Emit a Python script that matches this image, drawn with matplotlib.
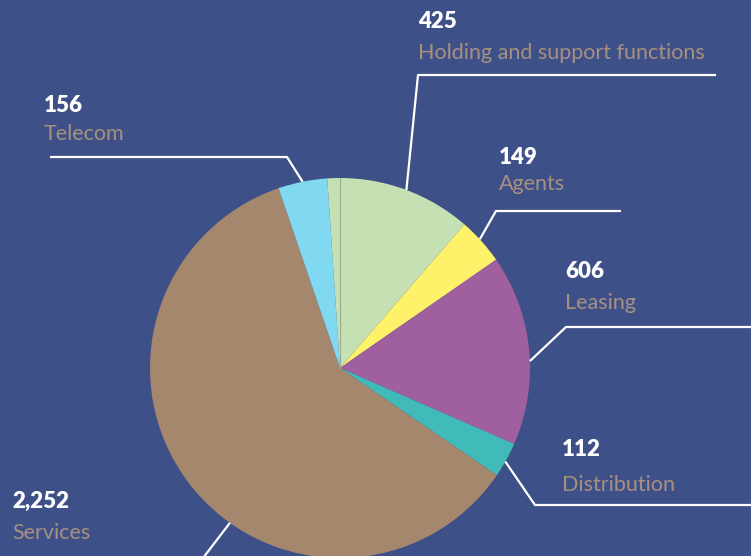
import numpy as np
import matplotlib.pyplot as plt

labels = ["Holding and support functions", "Agents", "Leasing", "Distribution",
          "Services", "Telecom", ""]
values = [425, 149, 606, 112, 2252, 156, 40]
value_text = ["425", "149", "606", "112", "2,252", "156", ""]
colors = ["#c5e1b4", "#fff26b", "#a0609f", "#41bbba", "#a4876d", "#80d8f1", "#c5e1b4"]

W, H = 751, 556
BG = "#3e5088"
TXT = "#a89080"

# layout (pixel coords, y from top): centre and radius of the pie
cx, cy, R = 340, 368, 190
# label layout: (where on wedge 0..1, elbow x, elbow y, line end x, text x, number y, name y)
layout = {
    0: (0.5, 418, 75, 716, 418, 22, 53),
    1: (0.45, 496, 211, 621, 499, 158, 184),
    2: (0.56, 566, 327, 751, 565, 272, 303),
    3: (0.55, 535, 505, 751, 562, 450, 485),
    4: (0.42, 200, 562, 200, 12, 501, 533),
    5: (0.5, 287, 157, 50, 44, 105, 134),
}

plt.rcParams["font.family"] = ["Lato", "DejaVu Sans"]

fig = plt.figure(figsize=(W / 100, H / 100), dpi=100, facecolor=BG)
ax = fig.add_axes([0, 0, 1, 1])
ax.set_facecolor(BG)

wedges, _ = ax.pie(values, colors=colors, startangle=90, counterclock=False,
                   center=(cx, H - cy), radius=R, wedgeprops=dict(linewidth=0))
ax.set_xlim(0, W)
ax.set_ylim(0, H)
ax.set_aspect("equal")
ax.axis("off")

# thin separator between the unlabeled sliver and holding
th = np.deg2rad(wedges[0].theta2)
ax.plot([cx, cx + R * np.cos(th)], [H - cy, H - cy + R * np.sin(th)],
        color="#9aaa98", lw=0.8)

for i, (frac, ex, ey, lx, tx, ny, ly) in layout.items():
    w = wedges[i]
    a = np.deg2rad(w.theta2 - frac * (w.theta2 - w.theta1))
    sx, sy = cx + R * np.cos(a), H - cy + R * np.sin(a)
    ax.plot([sx, ex, lx], [sy, H - ey, H - ey], color="white", lw=1.6,
            solid_capstyle="butt", clip_on=False)
    ax.text(tx, H - ny, value_text[i], color="white", fontsize=16,
            fontweight="heavy", va="center", ha="left")
    ax.text(tx, H - ly, labels[i], color=TXT, fontsize=15.5, va="center", ha="left")

fig.savefig("out.png", dpi=100, facecolor=BG)
